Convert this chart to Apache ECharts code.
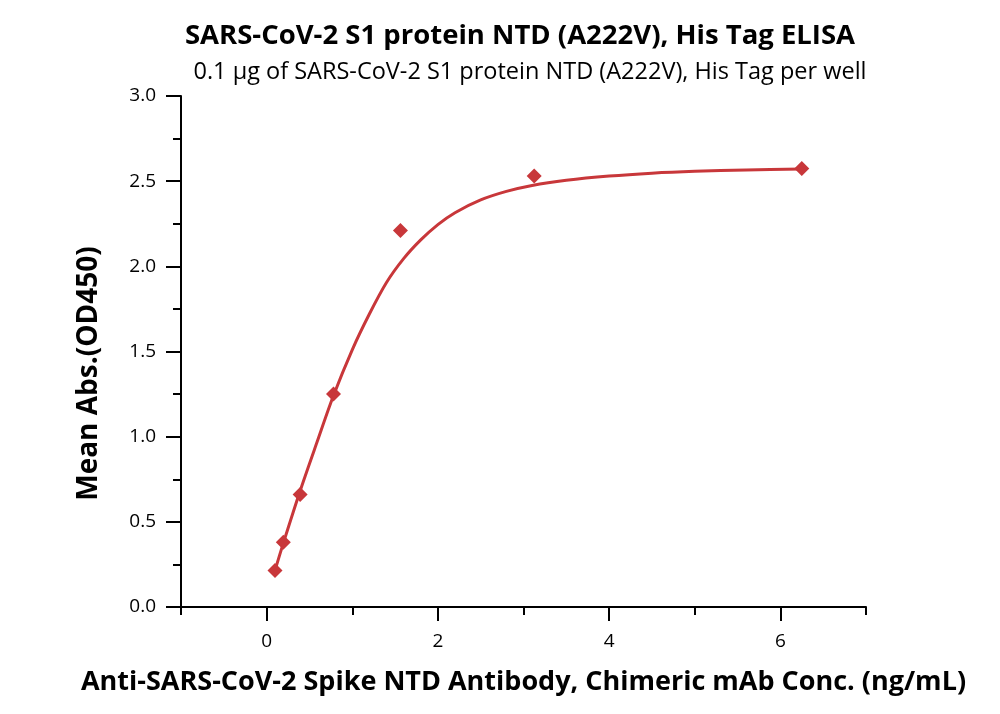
<!DOCTYPE html>
<html>
<head>
<meta charset="utf-8">
<script src="https://cdn.jsdelivr.net/npm/echarts@6/dist/echarts.min.js"></script>
<style>html,body{margin:0;padding:0;background:#fff}#c{width:1000px;height:714px}</style>
</head>
<body>
<div id="c"></div>
<script>
// measured points
var concX = [0.098, 0.195, 0.391, 0.781, 1.5625, 3.125, 6.25];
var absY = [0.215, 0.38, 0.66, 1.25, 2.21, 2.53, 2.575];
// fitted curve
var curveX = [0.098, 0.195, 0.39, 0.59, 0.78, 1.0, 1.2, 1.4, 1.6, 1.8, 2.0, 2.2, 2.5, 2.8, 3.1, 3.5, 4.0, 4.5, 5.0, 5.6, 6.25];
var curveY = [0.215, 0.375, 0.68, 0.97, 1.24, 1.51, 1.72, 1.905, 2.045, 2.155, 2.245, 2.315, 2.39, 2.44, 2.475, 2.505, 2.53, 2.547, 2.558, 2.566, 2.572];
var xMajor = [0, 2, 4, 6];
var xMinor = [-1, 1, 3, 5, 7];

var FONT = '"Open Sans", sans-serif';
var RED = '#c8373a';

var chart = echarts.init(document.getElementById('c'));
chart.setOption({
  animation: false,
  backgroundColor: '#fff',
  title: [{
    text: 'SARS-CoV-2 S1 protein NTD (A222V), His Tag ELISA',
    left: 515, top: 17, textAlign: 'center',
    textStyle: {fontFamily: FONT, fontWeight: 'bold', fontSize: 27.5, color: '#000'}
  }, {
    text: '0.1 μg of SARS-CoV-2 S1 protein NTD (A222V), His Tag per well',
    left: 525, top: 55, textAlign: 'center',
    textStyle: {fontFamily: FONT, fontWeight: 'normal', fontSize: 23.5, color: '#000'}
  }],
  grid: {left: 181, right: 134, top: 96, bottom: 107, containLabel: false},
  xAxis: [{
    type: 'value', min: -1, max: 7, interval: 1,
    name: 'Anti-SARS-CoV-2 Spike NTD Antibody, Chimeric mAb Conc. (ng/mL)',
    nameLocation: 'middle', nameGap: 62,
    nameTextStyle: {fontFamily: FONT, fontWeight: 'bold', fontSize: 27, color: '#000'},
    axisLine: {show: true, onZero: false, lineStyle: {color: '#000', width: 2}},
    axisTick: {show: true, customValues: xMajor, length: 14, lineStyle: {color: '#000', width: 2}},
    axisLabel: {show: true, customValues: xMajor, margin: 25, fontFamily: FONT, fontSize: 19, color: '#000'},
    splitLine: {show: false}
  }, {
    type: 'value', min: -1, max: 7, interval: 1, position: 'bottom',
    axisLine: {show: false, onZero: false},
    axisTick: {show: true, customValues: xMinor, length: 8, lineStyle: {color: '#000', width: 2}},
    axisLabel: {show: false},
    splitLine: {show: false}
  }],
  yAxis: {
    type: 'value', min: 0, max: 3, interval: 0.5,
    name: 'Mean Abs.(OD450)',
    nameLocation: 'middle', nameGap: 78,
    nameTextStyle: {fontFamily: FONT, fontWeight: 'bold', fontSize: 28, color: '#000', padding: [0, 44, 0, 0]},
    axisLine: {show: true, onZero: false, lineStyle: {color: '#000', width: 2}},
    axisTick: {show: true, length: 15, lineStyle: {color: '#000', width: 2}},
    minorTick: {show: true, splitNumber: 2, length: 8, lineStyle: {color: '#000', width: 2}},
    axisLabel: {margin: 25, fontFamily: FONT, fontSize: 19, color: '#000',
      formatter: function (v) { return v.toFixed(1); }},
    splitLine: {show: false}
  },
  series: [{
    type: 'line', xAxisIndex: 0,
    data: curveX.map(function (x, i) { return [x, curveY[i]]; }),
    smooth: 0.3, showSymbol: false, symbol: 'none',
    lineStyle: {color: RED, width: 3}, z: 2
  }, {
    type: 'scatter', xAxisIndex: 0,
    data: concX.map(function (x, i) { return [x, absY[i]]; }),
    symbol: 'diamond', symbolSize: 15,
    itemStyle: {color: RED, opacity: 1}, z: 3
  }]
});
</script>
</body>
</html>
